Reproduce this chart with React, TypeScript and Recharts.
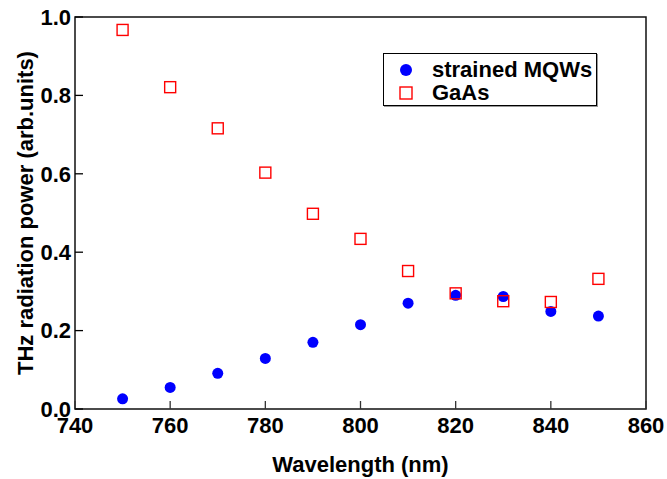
import { ScatterChart, Scatter, XAxis, YAxis, ReferenceArea, Legend } from 'recharts';

const wavelengths = [750, 760, 770, 780, 790, 800, 810, 820, 830, 840, 850];
const mqwPower = [0.026, 0.055, 0.091, 0.129, 0.17, 0.215, 0.27, 0.29, 0.287, 0.249, 0.237];
const gaasPower = [0.967, 0.821, 0.716, 0.603, 0.498, 0.434, 0.352, 0.295, 0.275, 0.273, 0.332];
const xTicks = [740, 760, 780, 800, 820, 840, 860];
const yTicks = [0, 0.2, 0.4, 0.6, 0.8, 1.0];

const mqwData = wavelengths.map((x, i) => ({ x, y: mqwPower[i] }));
const gaasData = wavelengths.map((x, i) => ({ x, y: gaasPower[i] }));

const FONT = '"Liberation Sans", Arial, sans-serif';

const XTick = ({ x, y, payload }: any) => (
  <g>
    <line x1={x} y1={y - 8} x2={x} y2={y - 16} stroke="#333" strokeWidth={1.3} />
    <text x={x} y={y} dy="0.71em" textAnchor="middle" fontFamily={FONT} fontWeight="bold" fontSize={22} fill="#000">
      {payload.value}
    </text>
  </g>
);

const YTick = ({ x, y, payload }: any) => (
  <g>
    <line x1={x + 4} y1={y} x2={x + 12} y2={y} stroke="#000" strokeWidth={1.3} />
    <text x={x} y={y} dy="0.355em" textAnchor="end" fontFamily={FONT} fontWeight="bold" fontSize={22} fill="#000">
      {Number(payload.value).toFixed(1)}
    </text>
  </g>
);

const Dot = ({ cx, cy }: any) => <circle cx={cx} cy={cy} r={5.5} fill="#0000ff" />;
const Box = ({ cx, cy }: any) => (
  <rect x={cx - 5.5} y={cy - 5.5} width={11} height={11} fill="none" stroke="#ff0000" strokeWidth={1.4} />
);

const LegendBox = () => (
  <div
    style={{
      width: 212,
      height: 47,
      border: '1.5px solid #000',
      boxShadow: '1px 1px 0 #999',
      background: '#fff',
      fontFamily: FONT,
      fontWeight: 'bold',
      fontSize: 22,
      lineHeight: '23px',
      paddingTop: 4,
      boxSizing: 'content-box',
    }}
  >
    <div style={{ display: 'flex', alignItems: 'center', height: 23 }}>
      <svg width={48} height={23}>
        <circle cx={22} cy={12} r={6} fill="#0000ff" />
      </svg>
      <span>strained MQWs</span>
    </div>
    <div style={{ display: 'flex', alignItems: 'center', height: 23 }}>
      <svg width={48} height={23}>
        <rect x={16} y={6} width={12} height={12} fill="none" stroke="#ff0000" strokeWidth={1.4} />
      </svg>
      <span>GaAs</span>
    </div>
  </div>
);

export default function App() {
  return (
    <div style={{ position: 'absolute', left: 0, top: 0 }}>
      <ScatterChart width={667} height={479} margin={{ top: 17, right: 21, left: 0, bottom: 0 }}>
        <XAxis
          type="number"
          dataKey="x"
          domain={[740, 860]}
          ticks={xTicks}
          interval={0}
          tickSize={0}
          tickMargin={8}
          tick={<XTick />}
          axisLine={false}
          height={70}
          label={{
            content: ({ viewBox }: any) => (
              <text
                x={viewBox.x + viewBox.width / 2}
                y={viewBox.y + 63}
                textAnchor="middle"
                fontFamily={FONT}
                fontWeight="bold"
                fontSize={22}
                fill="#000"
              >
                Wavelength (nm)
              </text>
            ),
          }}
        />
        <YAxis
          type="number"
          dataKey="y"
          domain={[0, 1]}
          ticks={yTicks}
          interval={0}
          tickSize={0}
          tickMargin={4}
          tick={<YTick />}
          axisLine={false}
          width={75}
          label={{
            content: ({ viewBox }: any) => {
              const cx = viewBox.x + 25;
              const cy = viewBox.y + viewBox.height / 2;
              return (
                <text
                  x={cx}
                  y={cy}
                  transform={`rotate(-90 ${cx} ${cy})`}
                  textAnchor="middle"
                  dominantBaseline="central"
                  fontFamily={FONT}
                  fontWeight="bold"
                  fontSize={22}
                  fill="#000"
                >
                  THz radiation power (arb.units)
                </text>
              );
            },
          }}
        />
        <ReferenceArea x1={740} x2={860} y1={0} y2={1} fill="none" stroke="#111" strokeWidth={1.5} />
        <Legend
          verticalAlign="middle"
          align="center"
          layout="horizontal"
          content={() => <LegendBox />}
          wrapperStyle={{ left: 383, top: 53, width: 216, height: 54 }}
        />
        <Scatter name="strained MQWs" data={mqwData} shape={<Dot />} isAnimationActive={false} />
        <Scatter name="GaAs" data={gaasData} shape={<Box />} isAnimationActive={false} />
      </ScatterChart>
    </div>
  );
}
